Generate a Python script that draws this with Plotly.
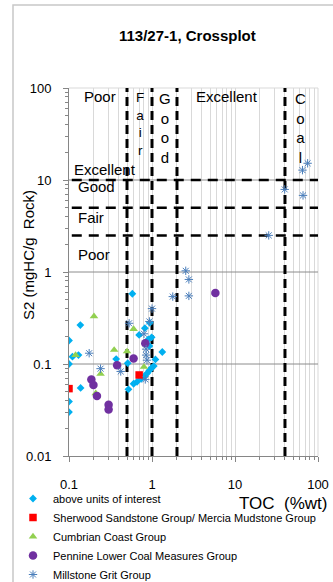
import plotly.graph_objects as go

# ---------------- data ----------------
above_toc = [0.10, 0.10, 0.10, 0.10, 0.137, 0.11, 0.13, 0.138, 0.37, 0.51, 0.58, 0.70, 0.82, 0.94,
             0.90, 0.99, 0.93, 1.33, 1.10, 0.52, 0.60, 0.66, 0.74, 0.82, 0.87, 0.93, 0.98, 1.05]
above_s2 = [0.18, 0.10, 0.039, 0.030, 0.265, 0.12, 0.125, 0.055, 0.113, 0.102, 0.58, 0.207, 0.245, 0.28,
            0.185, 0.195, 0.157, 0.135, 0.112, 0.053, 0.061, 0.064, 0.069, 0.074, 0.079, 0.085, 0.090, 0.095]

sherwood_toc = [0.10, 0.70]
sherwood_s2 = [0.054, 0.076]

cumbrian_toc = [0.20, 0.12, 0.35, 0.24, 0.50, 0.60, 0.80, 0.21]
cumbrian_s2 = [0.33, 0.125, 0.142, 0.078, 0.137, 0.24, 0.093, 0.048]

pennine_toc = [0.186, 0.197, 0.217, 0.30, 0.30, 0.38, 0.60, 0.83, 5.8]
pennine_s2 = [0.068, 0.059, 0.045, 0.036, 0.032, 0.097, 0.115, 0.168, 0.59]

millstone_toc = [0.175, 0.24, 0.42, 0.53, 0.80, 0.93, 1.0, 0.85, 0.85, 0.87, 0.83, 1.78, 2.55, 2.78,
                 2.78, 25.5, 39.7, 66, 65, 75]
millstone_s2 = [0.131, 0.089, 0.083, 0.277, 0.213, 0.29, 0.40, 0.145, 0.125, 0.11, 0.068, 0.54, 1.03, 0.83,
                0.55, 2.5, 7.9, 6.8, 12.8, 15.2]

toc_limits = [0.5, 1, 2, 40]          # Poor / Fair / Good / Excellent / Coal
s2_limits = [2.5, 5, 10]              # Poor / Fair / Good / Excellent
x_ticks = [0.1, 1, 10, 100]
x_tick_text = ["0.1", "1", "10", "100"]
y_ticks = [0.01, 0.1, 1, 10, 100]
y_tick_text = ["0.01", "0.1", "1", "10", "100"]

# ---------------- geometry (pixels of the 333x582 canvas) ----------------
W, H = 333, 582
PL, PR, PT, PB = 69, 318, 88, 456


def px(x):
    return x / W


def py(y):
    return 1 - y / H


FONT = "Liberation Sans, Arial, sans-serif"
fig = go.Figure()

# major horizontal gridlines (darker than the vertical ones)
for g in y_ticks[1:-1]:
    fig.add_trace(go.Scatter(x=[x_ticks[0], x_ticks[-1]], y=[g, g], mode="lines", showlegend=False,
                             hoverinfo="skip", line=dict(color="#8c8c8c", width=1)))

# dashed threshold lines
for v in toc_limits:
    fig.add_trace(go.Scatter(x=[v, v], y=[y_ticks[0], y_ticks[-1]], mode="lines", showlegend=False,
                             hoverinfo="skip", line=dict(color="black", width=3, dash="9px,5px")))
for h in s2_limits:
    fig.add_trace(go.Scatter(x=[0.108, x_ticks[-1]], y=[h, h], mode="lines", showlegend=False, hoverinfo="skip",
                             line=dict(color="black", width=2.5, dash="10px,7px")))

fig.add_trace(go.Scatter(x=above_toc, y=above_s2, mode="markers", name="above units of interest",
                         marker=dict(symbol="diamond", size=6, color="#00b0f0")))
fig.add_trace(go.Scatter(x=sherwood_toc, y=sherwood_s2, mode="markers",
                         name="Sherwood Sandstone Group/ Mercia Mudstone Group",
                         marker=dict(symbol="square", size=7.5, color="#ff0000")))
fig.add_trace(go.Scatter(x=cumbrian_toc, y=cumbrian_s2, mode="markers", name="Cumbrian Coast Group",
                         marker=dict(symbol="triangle-up", size=7.5, color="#92d050")))
fig.add_trace(go.Scatter(x=pennine_toc, y=pennine_s2, mode="markers", name="Pennine Lower Coal Measures Group",
                         marker=dict(symbol="circle", size=8.5, color="#7030a0")))
fig.add_trace(go.Scatter(x=millstone_toc, y=millstone_s2, mode="markers", name="Millstone Grit Group",
                         marker=dict(symbol="asterisk-open", size=7, color="#4a7ebb",
                                     line=dict(color="#4a7ebb", width=1))))

annotations = []


def ann(text, x, y, size=15, xanchor="center", yanchor="middle", **kw):
    annotations.append(dict(text=text, x=px(x), y=py(y), xref="paper", yref="paper", showarrow=False,
                            xanchor=xanchor, yanchor=yanchor, font=dict(family=FONT, size=size, color="black"),
                            **kw))


ann("<b>113/27-1, Crossplot</b>", 187, 35, size=15)
ann("S2 (mgHC/g\u00a0 Rock)", 28, 255, size=15, textangle=-90)
ann("TOC\u00a0 (%wt)", 329, 503, size=17, xanchor="right")

# zone labels
ann("Poor", 99.5, 97)
ann("F<br>a<br>i<br>r", 139.5, 124, size=13.5)
ann("G<br>o<br>o<br>d", 165, 128)
ann("Excellent", 226.7, 97)
ann("C<br>o<br>a<br>l", 300, 128)
ann("Excellent", 71.5, 169, xanchor="left")
ann("Good", 76, 186.5, xanchor="left")
ann("Fair", 76, 217.5, xanchor="left")
ann("Poor", 76, 254, xanchor="left")

fig.update_layout(
    width=W, height=H,
    template="none",
    margin=dict(l=0, r=0, t=0, b=0, autoexpand=False),
    paper_bgcolor="white", plot_bgcolor="white",
    font=dict(family=FONT, color="black"),
    annotations=annotations,
    shapes=[
        dict(type="rect", xref="paper", yref="paper", x0=px(13), x1=1.2, y0=-0.2, y1=py(5),
             line=dict(color="#c8c8c8", width=1.5), layer="below"),
        dict(type="line", xref="paper", yref="paper", x0=px(PL), x1=px(PR), y0=py(PT), y1=py(PT),
             line=dict(color="#d9d9d9", width=1), layer="below"),
        dict(type="line", xref="paper", yref="paper", x0=px(PR), x1=px(PR), y0=py(PB), y1=py(PT),
             line=dict(color="#d9d9d9", width=1), layer="below"),
    ],
    showlegend=True,
    legend=dict(x=px(13), y=py(484), xanchor="left", yanchor="top", bgcolor="rgba(0,0,0,0)",
                font=dict(family=FONT, size=11, color="black"), itemwidth=30, tracegroupgap=0,
                borderwidth=0),
    xaxis=dict(type="log", range=[-1, 2], domain=[px(PL), px(PR)], tickvals=x_ticks, ticktext=x_tick_text,
               automargin=False, showgrid=True, gridcolor="#d9d9d9", gridwidth=1, showline=True,
               linecolor="#868686", ticks="outside", ticklen=5, tickcolor="#868686",
               tickfont=dict(size=13, family=FONT, color="black"), ticklabelstandoff=11, zeroline=False,
               minor=dict(dtick="D1", showgrid=True, gridcolor="#d9d9d9", gridwidth=1, ticks="outside",
                          ticklen=3, tickcolor="#868686")),
    yaxis=dict(type="log", range=[-2, 2], domain=[py(PB), py(PT)], tickvals=y_ticks, ticktext=y_tick_text,
               automargin=False, showgrid=False, showline=True, linecolor="#868686",
               ticks="outside", ticklen=5, tickcolor="#868686",
               tickfont=dict(size=13, family=FONT, color="black"), ticklabelstandoff=9, zeroline=False,
               minor=dict(dtick="D1", showgrid=False, ticks="outside", ticklen=3, tickcolor="#868686")),
)

fig.write_html("out.html")
